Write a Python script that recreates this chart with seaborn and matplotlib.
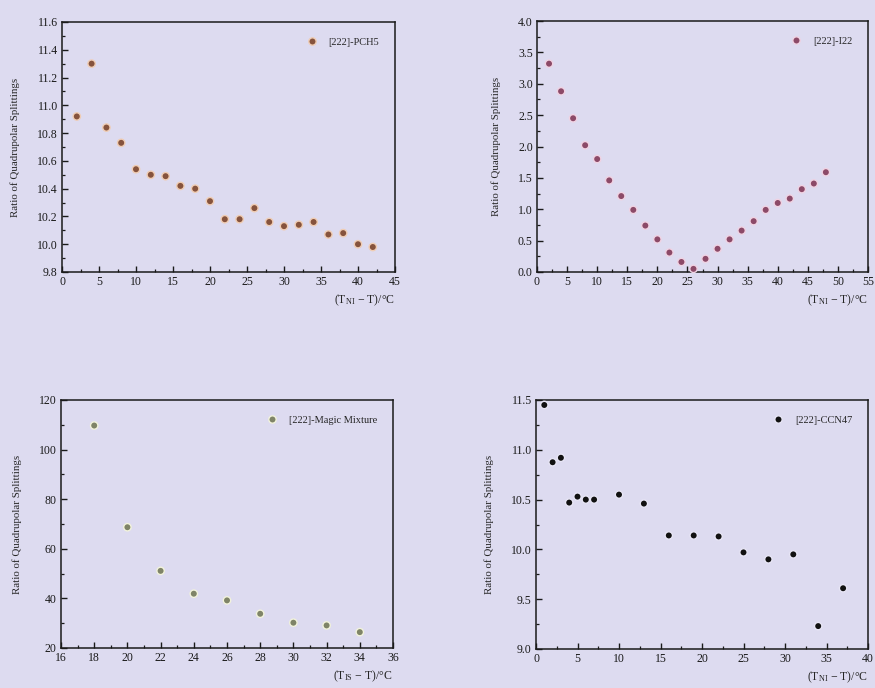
import matplotlib
matplotlib.use("Agg")
import matplotlib.pyplot as plt
from matplotlib.ticker import AutoMinorLocator, MultipleLocator
import numpy as np
import pandas as pd
import seaborn as sns

# ---- data -------------------------------------------------------------
pch5_dt = [2, 4, 6, 8, 10, 12, 14, 16, 18, 20, 22, 24, 26, 28, 30, 32, 34, 36, 38, 40, 42]
pch5_ratio = [10.92, 11.30, 10.84, 10.73, 10.54, 10.50, 10.49, 10.42, 10.40, 10.31, 10.18,
              10.18, 10.26, 10.16, 10.13, 10.14, 10.16, 10.07, 10.08, 10.00, 9.98]

i22_dt = [2, 4, 6, 8, 10, 12, 14, 16, 18, 20, 22, 24, 26, 28, 30, 32, 34, 36, 38, 40, 42, 44, 46, 48]
i22_ratio = [3.32, 2.88, 2.45, 2.02, 1.80, 1.46, 1.21, 0.99, 0.74, 0.52, 0.31, 0.16, 0.05,
             0.21, 0.37, 0.52, 0.66, 0.81, 0.99, 1.10, 1.17, 1.32, 1.41, 1.59]

magic_dt = [18, 20, 22, 24, 26, 28, 30, 32, 34]
magic_ratio = [109.7, 68.7, 51.1, 41.9, 39.2, 33.8, 30.2, 29.1, 26.4]

ccn47_dt = [1, 2, 3, 4, 5, 6, 7, 10, 13, 16, 19, 22, 25, 28, 31, 34, 37]
ccn47_ratio = [11.45, 10.875, 10.92, 10.47, 10.53, 10.50, 10.50, 10.55, 10.46, 10.14,
               10.14, 10.13, 9.97, 9.90, 9.95, 9.23, 9.61]

series_names = ["[222]-PCH5", "[222]-I22", "[222]-Magic Mixture", "[222]-CCN47"]
xlabels = [r"($\mathregular{T_{NI}}$ − T)/°C", r"($\mathregular{T_{NI}}$ − T)/°C",
           r"($\mathregular{T_{IS}}$ − T)/°C", r"($\mathregular{T_{NI}}$ − T)/°C"]
ylabel = "Ratio of Quadrupolar Splittings"

# ---- style ------------------------------------------------------------
bg = "#dddbf0"
sns.set_theme(style="ticks")
plt.rcParams["font.family"] = ["Liberation Serif", "DejaVu Serif"]
plt.rcParams.update({
    "figure.facecolor": bg,
    "axes.facecolor": bg,
    "axes.edgecolor": "#1a1a1a",
    "axes.linewidth": 1.1,
    "xtick.direction": "in",
    "ytick.direction": "in",
    "xtick.color": "#1a1a1a",
    "ytick.color": "#1a1a1a",
    "xtick.labelsize": 8.5,
    "ytick.labelsize": 8.5,
    "axes.labelsize": 7.8,
    "mathtext.fontset": "custom",
    "mathtext.rm": "Liberation Serif",
})

fig = plt.figure(figsize=(8.75, 6.88), dpi=100)
W, H = 875, 688


def add_panel(left, top, right, bottom):
    return fig.add_axes([left / W, 1 - bottom / H, (right - left) / W, (bottom - top) / H])


panels = [
    dict(box=(62, 22, 395, 272), x=pch5_dt, y=pch5_ratio, color="#86533d", halo="#f0cdb4",
         xlim=(0, 45), xstep=5, ylim=(9.8, 11.6), ystep=0.2, yfmt="{:.1f}"),
    dict(box=(537, 21, 868, 272), x=i22_dt, y=i22_ratio, color="#8c4a68", halo="#f0d3e3",
         xlim=(0, 55), xstep=5, ylim=(0.0, 4.0), ystep=0.5, yfmt="{:.1f}"),
    dict(box=(61, 400, 393, 648), x=magic_dt, y=magic_ratio, color="#7f8468", halo="#f2f3dc",
         xlim=(16, 36), xstep=2, ylim=(20, 120), ystep=20, yfmt="{:.0f}"),
    dict(box=(536, 400, 868, 649), x=ccn47_dt, y=ccn47_ratio, color="#111111", halo="#e8e6f6",
         xlim=(0, 40), xstep=5, ylim=(9.0, 11.5), ystep=0.5, yfmt="{:.1f}"),
]

for p, name, xl in zip(panels, series_names, xlabels):
    ax = add_panel(*p["box"])
    df = pd.DataFrame({"dt": p["x"], "ratio": p["y"], "series": name})
    sns.scatterplot(data=df, x="dt", y="ratio", hue="series", palette=[p["color"]],
                    s=28, edgecolor=p["halo"], linewidth=1.0, ax=ax, clip_on=False, zorder=3)
    ax.set_xlim(*p["xlim"])
    ax.set_ylim(*p["ylim"])
    ax.xaxis.set_major_locator(MultipleLocator(p["xstep"]))
    ax.yaxis.set_major_locator(MultipleLocator(p["ystep"]))
    ax.xaxis.set_minor_locator(AutoMinorLocator(2))
    ax.yaxis.set_minor_locator(AutoMinorLocator(2))
    ax.yaxis.set_major_formatter(plt.FuncFormatter(lambda v, _, f=p["yfmt"]: f.format(v)))
    ax.tick_params(which="major", length=4, width=1.0, top=False, right=False, pad=3)
    ax.tick_params(which="minor", length=2, width=0.9, top=False, right=False)
    ax.set_ylabel(ylabel, labelpad=12)
    ax.set_xlabel(xl, loc="right", labelpad=3, fontsize=8.5)
    for s in ax.spines.values():
        s.set_visible(True)
    leg = ax.legend(loc="upper right", bbox_to_anchor=(0.965, 0.955), frameon=False,
                    fontsize=7.5, handletextpad=0.6, borderaxespad=0.0, markerscale=1.0)
    leg.set_title(None)

fig.savefig("out.png", dpi=100, facecolor=bg)
